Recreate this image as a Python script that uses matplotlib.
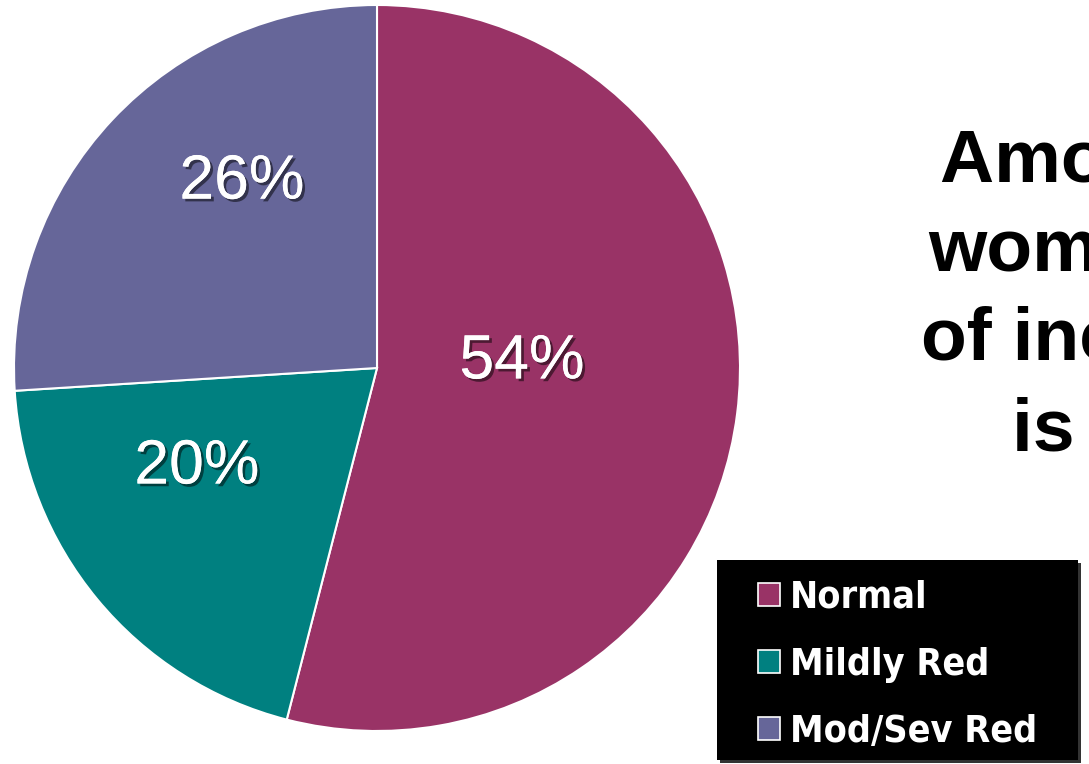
import numpy as np
import matplotlib
matplotlib.use("Agg")
import matplotlib.pyplot as plt
import matplotlib.patheffects as pe
from matplotlib.patches import Patch, Rectangle

categories = ["Normal", "Mildly Red", "Mod/Sev Red"]
shares = [54, 20, 26]
colors = ["#993366", "#008080", "#666699"]

# label placement inside each wedge: radius (pie units) and angle nudge (deg)
label_radius = [0.40, 0.566, 0.633]
label_nudge = [9.6, -10.8, -10.8]

title_lines = ["Among infertile", "women, the rate", "of increased loss", "is reduced"]

W, H = 1089, 764
fig = plt.figure(figsize=(W / 100, H / 100), dpi=100)

# pie axes: centre at (377, 368) px, radius 363 px
cx, cy, r = 377, 368, 363
ax = fig.add_axes([(cx - r) / W, (H - cy - r) / H, 2 * r / W, 2 * r / H])
wedges, _ = ax.pie(shares, colors=colors, startangle=90, counterclock=False,
                   radius=1.0,
                   wedgeprops=dict(edgecolor="white", linewidth=1.5))
ax.set_xlim(-1, 1)
ax.set_ylim(-1, 1)
ax.set_aspect("equal")
ax.axis("off")

shadow = [pe.withSimplePatchShadow(offset=(2, -2), shadow_rgbFace="black", alpha=0.5),
          pe.Normal()]
for w, val, rad, nudge in zip(wedges, shares, label_radius, label_nudge):
    theta = np.deg2rad((w.theta1 + w.theta2) / 2 + nudge)
    ax.text(rad * np.cos(theta), rad * np.sin(theta), f"{val}%",
            ha="center", va="center", color="white", fontsize=45,
            family="Liberation Sans", path_effects=shadow)

# title block on the right, running off the page edge
title_x = [940, 928, 921, 1012]
title_base = [182, 270, 360, 450]
for txt, x, y in zip(title_lines, title_x, title_base):
    fig.text(x / W, 1 - y / H, txt, ha="left", va="baseline",
             fontsize=54, fontweight="bold", family="Liberation Sans",
             color="black")

# black legend panel with a faint drop shadow
box_l, box_t, box_r, box_b = 717, 560, 1078, 760
fig.patches.append(Rectangle(((box_l + 3) / W, 1 - (box_b + 3) / H),
                             (box_r - box_l) / W, (box_b - box_t) / H,
                             transform=fig.transFigure, facecolor="#333333",
                             edgecolor="none", zorder=0))
fig.patches.append(Rectangle((box_l / W, 1 - box_b / H),
                             (box_r - box_l) / W, (box_b - box_t) / H,
                             transform=fig.transFigure, facecolor="black",
                             edgecolor="none", zorder=1))

handles = [Patch(facecolor=c, edgecolor="white", linewidth=1.2) for c in colors]
leg = fig.legend(handles, categories, loc="upper left",
                 bbox_to_anchor=(758 / W, 1 - 580 / H),
                 bbox_transform=fig.transFigure, frameon=False,
                 labelcolor="white",
                 prop=dict(family="DejaVu Sans", weight="bold",
                           stretch="condensed", size=27),
                 handlelength=0.58, handleheight=0.58, handletextpad=0.27,
                 labelspacing=0.82, borderpad=0, borderaxespad=0)

fig.savefig("out.png", dpi=100)
